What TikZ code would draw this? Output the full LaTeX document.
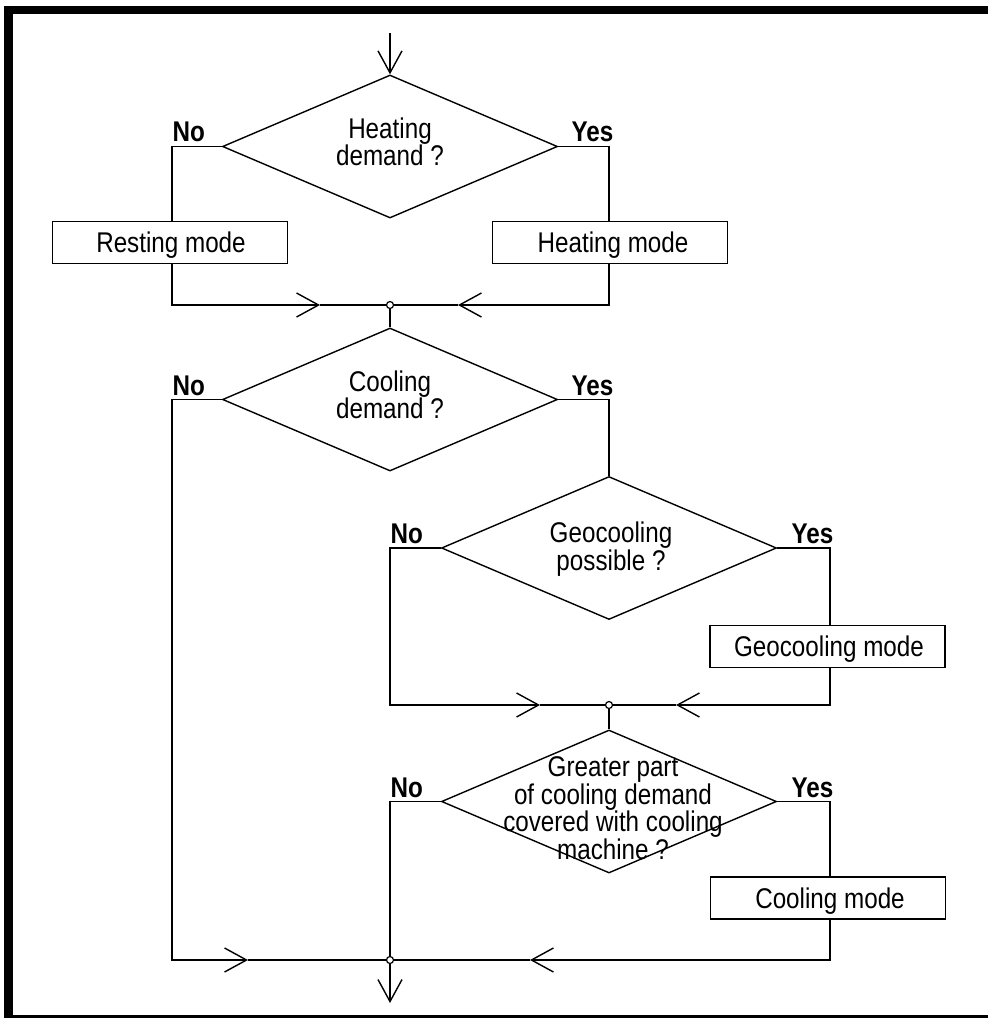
\documentclass[tikz,border=0pt]{standalone}
\usepackage{fontspec}
\setmainfont{Liberation Sans}[FakeStretch=0.85]
\usetikzlibrary{shapes.geometric,arrows.meta}
\newcommand{\txtfont}{\fontsize{28.5}{25}\selectfont}
\newcommand{\smtxtfont}{\fontsize{28.5}{23.5}\selectfont}
\begin{document}
\begin{tikzpicture}[x=1pt,y=-1pt,line width=1.4pt,
  dia/.style={diamond,draw,inner sep=0pt,minimum width=335pt,minimum height=143pt},
  box/.style={rectangle,draw,inner sep=0pt,minimum width=235pt,minimum height=42pt},
  btext/.style={inner sep=0pt,font=\txtfont},
  dtext/.style={inner sep=0pt,align=center,font=\txtfont},
  lbl/.style={inner sep=0pt,font=\txtfont\bfseries},
  junc/.style={circle,draw,fill=white,inner sep=0pt,minimum size=7pt,line width=1.2pt},
  arr/.style={-{Straight Barb[length=22pt,width=24pt,line width=1.4pt]}}]
\useasboundingbox (0,0) rectangle (988,1018);
% frame
\fill (4,6) rectangle (988,14);
\fill (4,6) rectangle (13,1018);
\fill (4,1015) rectangle (988,1018);

% nodes
\node[dia] (d1) at (390,146.5) {};
\node[dtext] (t1) at (390,142) {Heating\\demand ?};
\node[box] (rest) at (170,242.5) {};
\node[btext] (trest) at (171,245) {Resting mode};
\node[box] (heat) at (610,242.5) {};
\node[btext] (theat) at (613,245) {Heating mode};
\node[junc] (j1) at (390,305) {};

\node[dia] (d2) at (390,399.5) {};
\node[dtext] (t2) at (390,395) {Cooling\\demand ?};

\node[dia] (d3) at (609,548) {};
\node[dtext] (t3) at (611,549) {Geocooling\\possible ?};
\node[box] (geo) at (827.5,646.5) {};
\node[btext] (tgeo) at (829,649) {Geocooling mode};
\node[junc] (j3) at (609,705) {};

\node[dia] (d4) at (609,801.5) {};
\node[dtext,font=\smtxtfont] (t4) at (613,808) {Greater part\\of cooling demand\\covered with cooling\\machine ?};
\node[box] (cool) at (828,898) {};
\node[btext] (tcool) at (830,901) {Cooling mode};
\node[junc] (j4) at (390,960) {};

% labels
\node[lbl,anchor=base west] (no1) at (172,141) {No};
\node[lbl,anchor=base east] (yes1) at (614,141) {Yes};
\node[lbl,anchor=base west] (no2) at (172,395) {No};
\node[lbl,anchor=base east] (yes2) at (614,395) {Yes};
\node[lbl,anchor=base west] (no3) at (390,543) {No};
\node[lbl,anchor=base east] (yes3) at (834,543) {Yes};
\node[lbl,anchor=base west] (no4) at (390,797) {No};
\node[lbl,anchor=base east] (yes4) at (834,797) {Yes};

% coordinates
\coordinate (start) at (390,33);
\coordinate (n1) at (172,146.5);
\coordinate (y1) at (609,146.5);
\coordinate (a1) at (320,305);
\coordinate (a2) at (458,305);
\coordinate (n2) at (172,399.5);
\coordinate (y2) at (609,399.5);
\coordinate (n3) at (390,548);
\coordinate (y3) at (830,548);
\coordinate (a5) at (540,705);
\coordinate (a6) at (676,705);
\coordinate (n4) at (390,801.5);
\coordinate (y4) at (830,801.5);
\coordinate (a4) at (248,960);
\coordinate (a7) at (530,960);
\coordinate (finish) at (390,1003);

% connectors
\draw[arr] (start) -- (d1.north);
\draw (d1.west) -- (n1) -- (rest.north -| n1);
\draw (d1.east) -- (y1) -- (heat.north -| y1);
\draw[arr] (rest.south -| n1) -- (n1 |- j1) -- (a1);
\draw (a1) -- (j1);
\draw[arr] (heat.south -| y1) -- (y1 |- j1) -- (a2);
\draw (a2) -- (j1);
\draw (j1) -- (d2.north);

\draw[arr] (d2.west) -- (n2) -- (n2 |- j4) -- (a4);
\draw (a4) -- (j4);
\draw (d2.east) -- (y2) -- (d3.north);

\draw[arr] (d3.west) -- (n3) -- (n3 |- j3) -- (a5);
\draw (a5) -- (j3);
\draw (d3.east) -- (y3) -- (geo.north -| y3);
\draw[arr] (geo.south -| y3) -- (y3 |- j3) -- (a6);
\draw (a6) -- (j3);
\draw (j3) -- (d4.north);

\draw (d4.west) -- (n4) -- (j4);
\draw (d4.east) -- (y4) -- (cool.north -| y4);
\draw[arr] (cool.south -| y4) -- (y4 |- j4) -- (a7);
\draw (a7) -- (j4);
\draw[arr] (j4) -- (finish);
\end{tikzpicture}
\end{document}
